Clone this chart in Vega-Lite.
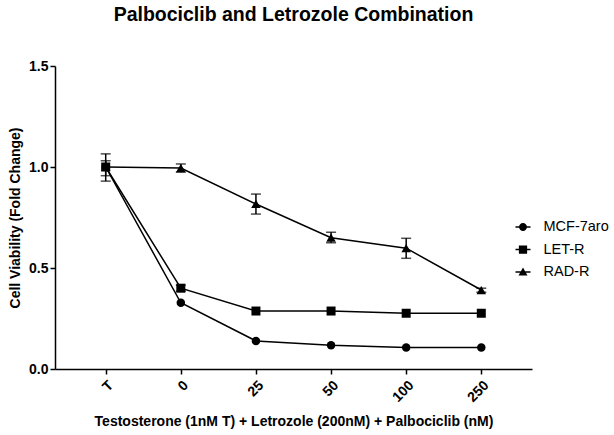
{
  "$schema": "https://vega.github.io/schema/vega-lite/v6.json",
  "width": 477,
  "height": 303,
  "autosize": {"type": "none"},
  "padding": {"left": 55, "top": 66, "right": 82, "bottom": 66},
  "background": "white",
  "title": {
    "text": "Palbociclib and Letrozole Combination",
    "font": "Liberation Sans",
    "fontSize": 19.5,
    "fontWeight": "bold",
    "color": "black",
    "anchor": "middle",
    "frame": "group",
    "offset": 34
  },
  "config": {
    "view": {"stroke": null},
    "font": "Liberation Sans",
    "axis": {
      "domainColor": "black",
      "domainWidth": 1.5,
      "tickColor": "black",
      "tickWidth": 1.5,
      "tickSize": 5,
      "labelFont": "Liberation Sans",
      "labelFontWeight": "bold",
      "labelFontSize": 14,
      "labelColor": "black",
      "titleFont": "Liberation Sans",
      "titleFontWeight": "bold",
      "titleFontSize": 14,
      "titleColor": "black",
      "grid": false
    }
  },
  "data": {
    "values": [
      {"series": "MCF-7aro", "conc": "T", "mean": 1.0, "lo": 0.93, "hi": 1.065},
      {"series": "MCF-7aro", "conc": "0", "mean": 0.328, "lo": 0.328, "hi": 0.328},
      {"series": "MCF-7aro", "conc": "25", "mean": 0.139, "lo": 0.139, "hi": 0.139},
      {"series": "MCF-7aro", "conc": "50", "mean": 0.117, "lo": 0.117, "hi": 0.117},
      {"series": "MCF-7aro", "conc": "100", "mean": 0.107, "lo": 0.107, "hi": 0.107},
      {"series": "MCF-7aro", "conc": "250", "mean": 0.107, "lo": 0.107, "hi": 0.107},
      {"series": "LET-R", "conc": "T", "mean": 1.0, "lo": 0.957, "hi": 1.031},
      {"series": "LET-R", "conc": "0", "mean": 0.40, "lo": 0.385, "hi": 0.415},
      {"series": "LET-R", "conc": "25", "mean": 0.287, "lo": 0.287, "hi": 0.287},
      {"series": "LET-R", "conc": "50", "mean": 0.287, "lo": 0.287, "hi": 0.287},
      {"series": "LET-R", "conc": "100", "mean": 0.276, "lo": 0.276, "hi": 0.276},
      {"series": "LET-R", "conc": "250", "mean": 0.276, "lo": 0.276, "hi": 0.276},
      {"series": "RAD-R", "conc": "T", "mean": 1.0, "lo": 1.0, "hi": 1.0},
      {"series": "RAD-R", "conc": "0", "mean": 0.995, "lo": 0.974, "hi": 1.015},
      {"series": "RAD-R", "conc": "25", "mean": 0.817, "lo": 0.767, "hi": 0.866},
      {"series": "RAD-R", "conc": "50", "mean": 0.65, "lo": 0.625, "hi": 0.677},
      {"series": "RAD-R", "conc": "100", "mean": 0.598, "lo": 0.548, "hi": 0.647},
      {"series": "RAD-R", "conc": "250", "mean": 0.391, "lo": 0.38, "hi": 0.40}
    ]
  },
  "encoding": {
    "x": {
      "field": "conc",
      "type": "ordinal",
      "sort": ["T", "0", "25", "50", "100", "250"],
      "scale": {"type": "point", "padding": 0.675},
      "axis": {
        "title": "Testosterone (1nM T) + Letrozole (200nM) + Palbociclib (nM)",
        "labelAngle": -45,
        "labelPadding": 4,
        "titlePadding": 10
      }
    }
  },
  "layer": [
    {
      "mark": {"type": "line", "color": "black", "strokeWidth": 1.5},
      "encoding": {
        "y": {
          "field": "mean",
          "type": "quantitative",
          "scale": {"domain": [0, 1.5], "nice": false},
          "axis": {
            "title": "Cell Viability (Fold Change)",
            "values": [0, 0.5, 1.0, 1.5],
            "format": ".1f",
            "labelPadding": 2,
            "titlePadding": 6
          }
        },
        "detail": {"field": "series"}
      }
    },
    {
      "transform": [{"filter": "datum.hi > datum.lo"}],
      "mark": {"type": "rule", "color": "black", "strokeWidth": 1.5},
      "encoding": {
        "y": {"field": "lo", "type": "quantitative"},
        "y2": {"field": "hi"}
      }
    },
    {
      "transform": [{"filter": "datum.hi > datum.lo"}],
      "mark": {"type": "tick", "color": "black", "size": 10, "thickness": 1.5},
      "encoding": {"y": {"field": "lo", "type": "quantitative"}}
    },
    {
      "transform": [{"filter": "datum.hi > datum.lo"}],
      "mark": {"type": "tick", "color": "black", "size": 10, "thickness": 1.5},
      "encoding": {"y": {"field": "hi", "type": "quantitative"}}
    },
    {
      "mark": {"type": "point", "filled": true, "color": "black", "opacity": 1},
      "encoding": {
        "y": {"field": "mean", "type": "quantitative"},
        "shape": {
          "field": "series",
          "type": "nominal",
          "scale": {"domain": ["MCF-7aro", "LET-R", "RAD-R"], "range": ["circle", "square", "triangle-up"]},
          "legend": null
        },
        "size": {
          "field": "series",
          "type": "nominal",
          "scale": {"domain": ["MCF-7aro", "LET-R", "RAD-R"], "range": [72, 90, 80]},
          "legend": null
        }
      }
    },
    {
      "transform": [{"filter": "datum.mean > 5"}],
      "mark": {"type": "point", "filled": true, "color": "black", "opacity": 1, "size": 225},
      "encoding": {
        "y": {"field": "mean", "type": "quantitative"},
        "shape": {
          "field": "series",
          "type": "nominal",
          "scale": {
            "domain": ["MCF-7aro", "LET-R", "RAD-R"],
            "range": [
              "M-1,-0.1H1V0.1H-1ZM0.53,0A0.53,0.53,0,1,1,-0.53,0A0.53,0.53,0,1,1,0.53,0Z",
              "M-1,-0.1H1V0.1H-1ZM-0.55,-0.55H0.55V0.55H-0.55Z",
              "M-1,-0.1H1V0.1H-1ZM0,-0.6L0.6,0.45H-0.6Z"
            ]
          },
          "legend": {
            "title": null,
            "orient": "none",
            "legendX": 459.5,
            "legendY": 152.5,
            "padding": 0,
            "rowPadding": 6.5,
            "labelOffset": 12,
            "labelFont": "Liberation Sans",
            "labelFontSize": 14.5,
            "labelColor": "black",
            "symbolSize": 225
          }
        }
      }
    }
  ],
  "resolve": {"scale": {"shape": "independent", "size": "independent"}}
}
